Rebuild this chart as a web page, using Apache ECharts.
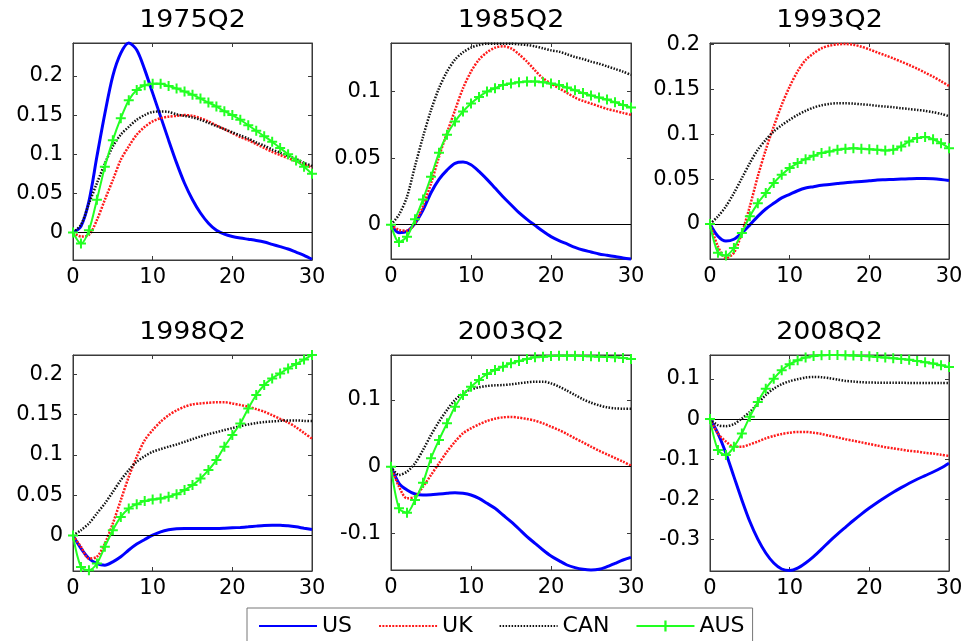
<!DOCTYPE html>
<html>
<head>
<meta charset="utf-8">
<script src="https://cdn.jsdelivr.net/npm/echarts@6/dist/echarts.min.js"></script>
<style>
  html, body { margin: 0; padding: 0; background: #fff; }
  #chart { width: 972px; height: 641px; }
</style>
</head>
<body>
<div id="chart"></div>
<script>
// Impulse responses over 30 quarters for four economies, six sample dates.
const horizons = [0,1,2,3,4,5,6,7,8,9,10,11,12,13,14,15,16,17,18,19,20,21,22,23,24,25,26,27,28,29,30];
const panelTitles = ['1975Q2', '1985Q2', '1993Q2', '1998Q2', '2003Q2', '2008Q2'];
const countries = ['US', 'UK', 'CAN', 'AUS'];
const xTicks = [0, 10, 20, 30];

// 1975Q2
const us1975  = [0,0.008,0.04,0.097,0.152,0.2,0.229,0.242,0.233,0.208,0.178,0.148,0.118,0.089,0.063,0.042,0.025,0.012,0.003,-0.002,-0.005,-0.007,-0.0085,-0.01,-0.012,-0.015,-0.018,-0.021,-0.025,-0.029,-0.034];
const uk1975  = [0,-0.005,-0.003,0.016,0.042,0.067,0.093,0.11,0.125,0.135,0.142,0.146,0.148,0.149,0.15,0.149,0.146,0.142,0.137,0.132,0.127,0.122,0.118,0.113,0.108,0.103,0.099,0.095,0.091,0.087,0.083];
const can1975 = [0,0.01,0.037,0.063,0.088,0.11,0.125,0.135,0.144,0.15,0.154,0.1545,0.154,0.151,0.149,0.147,0.144,0.14,0.136,0.132,0.128,0.124,0.12,0.115,0.111,0.106,0.102,0.098,0.094,0.089,0.085];
const aus1975 = [0,-0.014,0.003,0.042,0.084,0.118,0.146,0.169,0.182,0.188,0.19,0.19,0.187,0.184,0.18,0.176,0.171,0.166,0.161,0.155,0.15,0.144,0.137,0.13,0.123,0.116,0.108,0.1,0.092,0.084,0.075];
const yTicks1975 = [0, 0.05, 0.1, 0.15, 0.2];

// 1985Q2
const us1985  = [0,-0.006,-0.005,0.001,0.011,0.024,0.034,0.041,0.046,0.047,0.045,0.04,0.034,0.0275,0.021,0.015,0.009,0.004,-0.0005,-0.005,-0.009,-0.012,-0.0145,-0.017,-0.019,-0.0205,-0.022,-0.023,-0.024,-0.025,-0.0258];
const uk1985  = [0,-0.004,-0.0045,0.001,0.014,0.031,0.051,0.069,0.086,0.1025,0.115,0.124,0.1295,0.133,0.134,0.1325,0.128,0.1225,0.116,0.11,0.106,0.1025,0.099,0.0955,0.093,0.091,0.089,0.087,0.0855,0.084,0.0825];
const can1985 = [0,0.0075,0.021,0.044,0.066,0.086,0.1025,0.115,0.124,0.1295,0.133,0.135,0.136,0.136,0.136,0.136,0.1355,0.135,0.134,0.1325,0.131,0.13,0.128,0.126,0.1245,0.1225,0.121,0.119,0.117,0.115,0.1125];
const aus1985 = [0,-0.013,-0.009,0.004,0.019,0.036,0.054,0.0675,0.0775,0.085,0.091,0.096,0.1,0.1025,0.105,0.106,0.107,0.1075,0.1075,0.107,0.106,0.105,0.103,0.101,0.099,0.097,0.0955,0.094,0.092,0.09,0.088];
const yTicks1985 = [0, 0.05, 0.1];

// 1993Q2
const us1993  = [0,-0.0137,-0.019,-0.017,-0.01,-0.001,0.0085,0.0167,0.023,0.029,0.033,0.037,0.04,0.0415,0.043,0.044,0.045,0.046,0.0467,0.0474,0.048,0.049,0.0493,0.0496,0.05,0.0504,0.0507,0.0507,0.0504,0.0496,0.0485];
const uk1993  = [0,-0.025,-0.038,-0.032,-0.01,0.0196,0.053,0.0826,0.1085,0.1326,0.153,0.17,0.1826,0.19,0.1956,0.1985,0.2,0.2004,0.1996,0.1974,0.1944,0.191,0.1878,0.1844,0.1807,0.177,0.173,0.1685,0.164,0.159,0.1537];
const can1993 = [0,0.0085,0.0196,0.0344,0.051,0.0678,0.0826,0.0937,0.103,0.11,0.116,0.1215,0.126,0.1296,0.1322,0.1337,0.1344,0.1344,0.134,0.1333,0.1326,0.1315,0.1307,0.13,0.1289,0.128,0.127,0.126,0.1244,0.1226,0.12];
const aus1993 = [0,-0.032,-0.035,-0.0267,-0.01,0.0085,0.023,0.0344,0.0456,0.0548,0.0622,0.0678,0.0722,0.076,0.0789,0.0807,0.0826,0.0837,0.0844,0.0837,0.0833,0.0826,0.0819,0.0826,0.0863,0.0919,0.0956,0.0967,0.0944,0.09,0.0844];
const yTicks1993 = [0, 0.05, 0.1, 0.15, 0.2];

// 1998Q2
const us1998  = [0,-0.016,-0.0285,-0.0347,-0.0368,-0.0326,-0.0264,-0.018,-0.0107,-0.005,0.0004,0.0045,0.007,0.0083,0.0087,0.0087,0.0087,0.0087,0.0087,0.009,0.0095,0.01,0.0107,0.0116,0.0124,0.0128,0.0128,0.012,0.0107,0.009,0.0074];
const uk1998  = [0,-0.014,-0.0285,-0.0264,-0.01,0.0149,0.0438,0.0727,0.0975,0.118,0.1306,0.141,0.149,0.155,0.1595,0.1624,0.1636,0.1645,0.165,0.165,0.1636,0.1616,0.1595,0.1566,0.1533,0.149,0.1446,0.14,0.134,0.127,0.12];
const can1998 = [0,0.0066,0.0149,0.0273,0.0397,0.054,0.0686,0.081,0.0913,0.0983,0.1037,0.107,0.11,0.1128,0.116,0.1194,0.1227,0.1256,0.128,0.1306,0.133,0.1355,0.1376,0.1393,0.1405,0.1413,0.142,0.1426,0.1426,0.142,0.1417];
const aus1998 = [0,-0.039,-0.043,-0.0347,-0.014,0.0066,0.023,0.0335,0.0388,0.0426,0.0446,0.0459,0.048,0.0512,0.0562,0.0624,0.0707,0.081,0.0934,0.11,0.1244,0.1388,0.1574,0.174,0.1864,0.1946,0.2008,0.207,0.2124,0.218,0.2236];
const yTicks1998 = [0, 0.05, 0.1, 0.15, 0.2];

// 2003Q2
const us2003  = [0,-0.025,-0.035,-0.041,-0.0425,-0.042,-0.041,-0.04,-0.039,-0.04,-0.0425,-0.0475,-0.055,-0.0625,-0.0725,-0.0825,-0.0935,-0.105,-0.115,-0.125,-0.134,-0.141,-0.1475,-0.1515,-0.154,-0.155,-0.154,-0.15,-0.145,-0.14,-0.136];
const uk2003  = [0,-0.03,-0.0475,-0.045,-0.03,-0.0125,0.005,0.0225,0.0375,0.05,0.0575,0.0635,0.0685,0.072,0.074,0.0745,0.0735,0.0715,0.069,0.065,0.06,0.055,0.049,0.0425,0.0365,0.03,0.024,0.0185,0.013,0.0075,0.0015];
const can2003 = [0,-0.0125,-0.0075,0.005,0.025,0.0475,0.0675,0.085,0.1,0.11,0.116,0.119,0.121,0.122,0.1225,0.1235,0.125,0.1265,0.1275,0.1275,0.125,0.12,0.114,0.1075,0.101,0.096,0.092,0.089,0.0875,0.087,0.087];
const aus2003 = [0,-0.0625,-0.069,-0.05,-0.024,0.0125,0.04,0.065,0.09,0.1075,0.12,0.13,0.139,0.145,0.15,0.155,0.1585,0.1615,0.164,0.165,0.166,0.1665,0.1665,0.1665,0.166,0.1655,0.165,0.1645,0.164,0.163,0.1615];
const yTicks2003 = [-0.1, 0, 0.1];

// 2008Q2
const us2008  = [0,-0.036,-0.085,-0.1435,-0.2017,-0.2556,-0.2996,-0.334,-0.359,-0.374,-0.378,-0.372,-0.359,-0.343,-0.3245,-0.305,-0.287,-0.27,-0.253,-0.237,-0.222,-0.208,-0.195,-0.1826,-0.171,-0.16,-0.15,-0.141,-0.132,-0.122,-0.11];
const uk2008  = [0,-0.036,-0.056,-0.069,-0.069,-0.063,-0.056,-0.048,-0.042,-0.037,-0.034,-0.032,-0.032,-0.034,-0.037,-0.0415,-0.0456,-0.05,-0.054,-0.058,-0.062,-0.066,-0.07,-0.073,-0.076,-0.079,-0.081,-0.084,-0.086,-0.089,-0.092];
const can2008 = [0,-0.015,-0.0175,-0.0125,0.0017,0.018,0.039,0.06,0.076,0.087,0.0946,0.0996,0.1037,0.1054,0.1046,0.102,0.0988,0.0954,0.0938,0.092,0.0913,0.091,0.0908,0.0906,0.0905,0.0904,0.0903,0.0902,0.0901,0.09,0.09];
const aus2008 = [0,-0.077,-0.0896,-0.069,-0.036,0.006,0.043,0.076,0.101,0.122,0.137,0.147,0.1535,0.1577,0.1593,0.16,0.16,0.1593,0.1585,0.1577,0.157,0.155,0.1535,0.152,0.15,0.148,0.145,0.142,0.1386,0.1344,0.13];
const yTicks2008 = [-0.3, -0.2, -0.1, 0, 0.1];

const panelData = [
  [us1975, uk1975, can1975, aus1975],
  [us1985, uk1985, can1985, aus1985],
  [us1993, uk1993, can1993, aus1993],
  [us1998, uk1998, can1998, aus1998],
  [us2003, uk2003, can2003, aus2003],
  [us2008, uk2008, can2008, aus2008]
];
const panelYTicks = [yTicks1975, yTicks1985, yTicks1993, yTicks1998, yTicks2003, yTicks2008];

// Layout of the six axes boxes and their vertical extents
const panels = [
  { left: 73,  top: 43,  width: 239, height: 217, yMin: -0.035, yMax: 0.242 },
  { left: 391, top: 43,  width: 240, height: 216, yMin: -0.0258, yMax: 0.1365 },
  { left: 710, top: 43,  width: 239, height: 216, yMin: -0.039, yMax: 0.2015 },
  { left: 73,  top: 355, width: 239, height: 216, yMin: -0.044, yMax: 0.2236 },
  { left: 391, top: 355, width: 240, height: 215, yMin: -0.155, yMax: 0.1675 },
  { left: 710, top: 355, width: 239, height: 216, yMin: -0.379, yMax: 0.16 }
];

const FONT = 'DejaVu Sans';
const frameColor = '#3a3a3a';
const plusSymbol = 'path://M4,0H6V4H10V6H6V10H4V6H0V4H4Z';

const seriesStyles = [
  { color: '#0000ff', width: 3,   type: 'solid',  symbol: 'none' },
  { color: '#ff1a1a', width: 2.5, type: [2, 1.3], symbol: 'none' },
  { color: '#111111', width: 2.5, type: [1.5, 1.5], symbol: 'none' },
  { color: '#22ff22', width: 2,   type: 'solid',  symbol: plusSymbol }
];

const grid = [], xAxis = [], yAxis = [], series = [], graphic = [];

panels.forEach((p) => {
  grid.push({ left: p.left, top: p.top, width: p.width, height: p.height,
              show: true, borderColor: frameColor, borderWidth: 1, backgroundColor: '#fff' });
});

// primary axes (bottom / left) carry the labels
panels.forEach((p, i) => {
  xAxis.push({
    type: 'value', gridIndex: i, min: 0, max: 30, position: 'bottom',
    axisLine: { show: true, onZero: false, lineStyle: { color: frameColor, width: 1 } },
    axisTick: { show: true, inside: true, length: 4, customValues: xTicks, lineStyle: { color: frameColor } },
    axisLabel: { show: true, customValues: xTicks, margin: 7, color: '#000', fontFamily: FONT, fontSize: 21 },
    splitLine: { show: false }
  });
  yAxis.push({
    type: 'value', gridIndex: i, min: p.yMin, max: p.yMax, position: 'left',
    axisLine: { show: true, onZero: false, lineStyle: { color: frameColor, width: 1 } },
    axisTick: { show: true, inside: true, length: 4, customValues: panelYTicks[i], lineStyle: { color: frameColor } },
    axisLabel: { show: true, customValues: panelYTicks[i], margin: 10, color: '#000', fontFamily: FONT, fontSize: 21 },
    splitLine: { show: false }
  });
});
// mirrored tick marks on the top / right edges of each box
panels.forEach((p, i) => {
  xAxis.push({
    type: 'value', gridIndex: i, min: 0, max: 30, position: 'top',
    axisLine: { show: true, onZero: false, lineStyle: { color: frameColor, width: 1 } },
    axisTick: { show: true, inside: true, length: 4, customValues: xTicks, lineStyle: { color: frameColor } },
    axisLabel: { show: false }, splitLine: { show: false }
  });
  yAxis.push({
    type: 'value', gridIndex: i, min: p.yMin, max: p.yMax, position: 'right',
    axisLine: { show: true, onZero: false, lineStyle: { color: frameColor, width: 1 } },
    axisTick: { show: true, inside: true, length: 4, customValues: panelYTicks[i], lineStyle: { color: frameColor } },
    axisLabel: { show: false }, splitLine: { show: false }
  });
});

panels.forEach((p, i) => {
  panelData[i].forEach((vals, c) => {
    const st = seriesStyles[c];
    const s = {
      type: 'line', name: countries[c], xAxisIndex: i, yAxisIndex: i,
      data: horizons.map((h, k) => [h, vals[k]]),
      smooth: 0.3,
      symbol: st.symbol, symbolSize: 10, showSymbol: st.symbol !== 'none', showAllSymbol: true,
      itemStyle: { color: st.color },
      lineStyle: { color: st.color, width: st.width, type: st.type },
      emphasis: { disabled: true },
      clip: false, z: 3 + c
    };
    if (c === 0) {
      // horizontal reference line at zero
      s.markLine = {
        silent: true, symbol: 'none', animation: false,
        label: { show: false },
        lineStyle: { color: '#000', width: 1, type: 'solid' },
        data: [{ yAxis: 0 }]
      };
      s.z = 2;
    }
    series.push(s);
  });
  graphic.push({
    type: 'text', x: p.left + p.width / 2, y: p.top - 22, scaleX: 1.12,
    style: { text: panelTitles[i], font: '24px "' + FONT + '"', fill: '#000',
             textAlign: 'center', textVerticalAlign: 'middle' }
  });
});

// legend entries: plain line keys for the three unmarked series
const hiddenMarker = { opacity: 0, color: 'rgba(0,0,0,0)', borderWidth: 0 };
const legendData = countries.map((name, c) =>
  seriesStyles[c].symbol === 'none' ? { name, itemStyle: hiddenMarker } : { name });

const chart = echarts.init(document.getElementById('chart'), null, { renderer: 'canvas' });
chart.setOption({
  animation: false,
  backgroundColor: '#fff',
  grid, xAxis, yAxis, series, graphic,
  legend: {
    data: legendData,
    left: 247, top: 608,
    padding: [7, 8, 10, 11],
    itemGap: 26, itemWidth: 58, itemHeight: 14,
    borderColor: '#777', borderWidth: 1, backgroundColor: '#fff',
    selectedMode: false,
    textStyle: { fontFamily: FONT, fontSize: 22, color: '#000' }
  }
});
</script>
</body>
</html>
